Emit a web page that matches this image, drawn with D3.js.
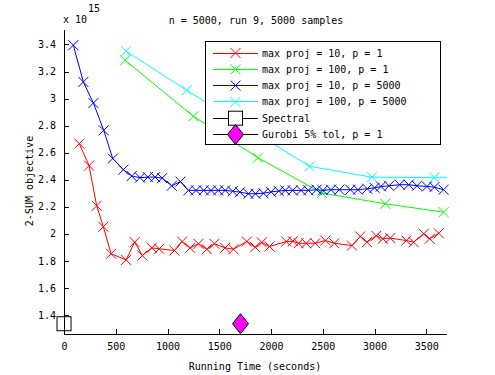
<!DOCTYPE html>
<html lang="en">
<head>
<meta charset="utf-8" />
<script src="https://cdnjs.cloudflare.com/ajax/libs/d3/7.8.5/d3.min.js"></script>
<style>
  body { margin: 0; background: #fff; }
  text { font-family: "DejaVu Sans Mono", monospace; font-size: 10px; fill: #000; }
</style>
</head>
<body>
<div id="chart"></div>
<script>
// values in units of 1e15, time in seconds
const redPts = [[148,2.667],[242,2.504],[316,2.207],[380,2.052],[455,1.852],[600,1.807],[683,1.938],[757,1.839],
  [848,1.896],[919,1.889],[1067,1.876],[1141,1.943],[1218,1.896],[1299,1.926],[1380,1.886],[1453,1.926],
  [1557,1.896],[1637,1.886],[1766,1.943],[1847,1.901],[1911,1.936],[1985,1.906],[2147,1.943],[2211,1.945],
  [2266,1.930],[2340,1.930],[2427,1.930],[2524,1.950],[2611,1.930],[2782,1.913],[2862,1.980],[2927,1.938],
  [3017,1.985],[3081,1.963],[3152,1.968],[3307,1.950],[3378,1.938],[3475,2.000],[3533,1.963],[3620,2.004]];
const greenPts = [[590,3.283],[1250,2.869],[1873,2.563],[2492,2.301],[3104,2.222],[3667,2.160]];
const bluePts = [[90,3.395],[187,3.123],[284,2.967],[384,2.765],[471,2.556],[574,2.474],[654,2.427],[735,2.415],
  [810,2.419],[880,2.419],[948,2.412],[1041,2.355],[1125,2.386],[1202,2.321],[1276,2.321],[1350,2.321],
  [1420,2.321],[1490,2.321],[1557,2.321],[1630,2.315],[1700,2.308],[1782,2.296],[1850,2.296],[1927,2.300],
  [2000,2.310],[2075,2.316],[2137,2.321],[2210,2.321],[2290,2.321],[2360,2.321],[2440,2.326],[2501,2.321],
  [2580,2.326],[2660,2.326],[2766,2.326],[2840,2.326],[2930,2.333],[3000,2.340],[3062,2.350],[3140,2.355],
  [3242,2.363],[3330,2.363],[3410,2.355],[3506,2.350],[3578,2.345],[3667,2.326]];
const cyanPts = [[600,3.350],[1186,3.061],[2372,2.499],[2975,2.419],[3578,2.415],[4170,2.415]];
const spectralPt = [[0,1.335]];
const gurobiPt = [[1705,1.335]];

const seriesNames = ['max proj = 10, p = 1', 'max proj = 100, p = 1', 'max proj = 10, p = 5000',
  'max proj = 100, p = 5000', 'Spectral', 'Gurobi 5% tol, p = 1'];
const xTicks = [0, 500, 1000, 1500, 2000, 2500, 3000, 3500];
const yTicks = [1.4, 1.6, 1.8, 2, 2.2, 2.4, 2.6, 2.8, 3, 3.2, 3.4];

const W = 495, H = 375;
const plot = { left: 64, right: 447, top: 30, bottom: 334 };

const series = [
  { name: seriesNames[0], pts: redPts, color: '#ff0000', marker: 'x' },
  { name: seriesNames[1], pts: greenPts, color: '#00ff00', marker: 'x' },
  { name: seriesNames[2], pts: bluePts, color: '#0000ff', marker: 'x' },
  { name: seriesNames[3], pts: cyanPts, color: '#00ffff', marker: 'x' },
  { name: seriesNames[4], pts: spectralPt, color: '#000000', marker: 'square', fill: '#ffffff' },
  { name: seriesNames[5], pts: gurobiPt, color: '#000000', marker: 'diamond', fill: '#ff00ff' }
];

const svg = d3.select('#chart').append('svg').attr('width', W).attr('height', H);

const x = d3.scaleLinear().domain([0, 3700]).range([plot.left, plot.right]);
const y = d3.scaleLinear().domain([1.259, 3.507]).range([plot.bottom, plot.top]);

svg.append('clipPath').attr('id', 'clip')
  .append('rect').attr('x', plot.left).attr('y', plot.top)
  .attr('width', plot.right - plot.left).attr('height', plot.bottom - plot.top);

// marker drawing
function drawMarker(g, m, cx, cy, color, fill) {
  if (m === 'x') {
    const r = 5;
    g.append('path').attr('d', `M${cx - r},${cy - r}L${cx + r},${cy + r}M${cx - r},${cy + r}L${cx + r},${cy - r}`)
      .attr('stroke', color).attr('fill', 'none');
  } else if (m === 'square') {
    g.append('rect').attr('x', cx - 7).attr('y', cy - 7).attr('width', 14).attr('height', 14)
      .attr('fill', fill).attr('stroke', color);
  } else if (m === 'diamond') {
    g.append('path').attr('d', `M${cx},${cy - 10}L${cx + 8},${cy}L${cx},${cy + 10}L${cx - 8},${cy}Z`)
      .attr('fill', fill).attr('stroke', color);
  }
}

const line = d3.line().x(d => x(d[0])).y(d => y(d[1]));

series.forEach(s => {
  if (s.pts.length > 1) {
    svg.append('path').datum(s.pts).attr('d', line)
      .attr('clip-path', 'url(#clip)')
      .attr('fill', 'none').attr('stroke', s.color).attr('stroke-width', 1);
  }
  const g = svg.append('g');
  s.pts.filter(d => d[0] <= 3700).forEach(d => drawMarker(g, s.marker, x(d[0]), y(d[1]), s.color, s.fill));
});

// axes
const xAxis = svg.append('g').attr('transform', `translate(0,${plot.bottom})`)
  .call(d3.axisBottom(x).tickValues(xTicks).tickSize(-5).tickPadding(9).tickFormat(d3.format('d')));
const yAxis = svg.append('g').attr('transform', `translate(${plot.left},0)`)
  .call(d3.axisLeft(y).tickValues(yTicks).tickSize(-5).tickPadding(8).tickFormat(d => String(+d.toFixed(1))));
[xAxis, yAxis].forEach(a => {
  a.select('.domain').attr('stroke', '#000').attr('shape-rendering', 'crispEdges');
  a.selectAll('.tick line').attr('stroke', '#000').attr('shape-rendering', 'crispEdges');
  a.selectAll('text').attr('font-family', '"DejaVu Sans Mono", monospace').attr('font-size', 10).attr('fill', '#000');
});
xAxis.select('.domain').attr('d', `M${plot.left},0H${plot.right}`);
yAxis.select('.domain').attr('d', `M0,${plot.bottom}V${plot.top}`);

// exponent
svg.append('text').attr('x', 63).attr('y', 23).text('x 10');
svg.append('text').attr('x', 88).attr('y', 12).text('15');

// title and labels
svg.append('text').attr('x', 256).attr('y', 24).attr('text-anchor', 'middle').text('n = 5000, run 9, 5000 samples');
svg.append('text').attr('x', 255).attr('y', 370).attr('text-anchor', 'middle').text('Running Time (seconds)');
svg.append('text').attr('transform', 'translate(33,181) rotate(-90)').attr('text-anchor', 'middle').text('2-SUM objective');

// legend
const leg = svg.append('g');
leg.append('rect').attr('x', 205.5).attr('y', 41.5).attr('width', 235).attr('height', 103)
  .attr('fill', '#fff').attr('stroke', '#000').attr('shape-rendering', 'crispEdges');
series.forEach((s, i) => {
  const ly = 53 + i * 16.3;
  leg.append('line').attr('x1', 213).attr('x2', 258).attr('y1', ly).attr('y2', ly)
    .attr('stroke', s.color).attr('shape-rendering', 'crispEdges');
  drawMarker(leg, s.marker, 235.5, ly, s.color, s.fill);
  leg.append('text').attr('x', 262).attr('y', ly + 3.5).text(s.name);
});
</script>
</body>
</html>
